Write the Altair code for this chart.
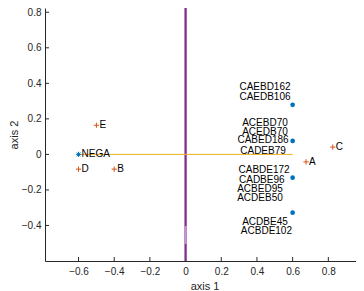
import altair as alt
import pandas as pd

# red "+" points
plus_names = ["A", "B", "C", "D", "E"]
plus_x = [0.675, -0.4, 0.825, -0.6, -0.5]
plus_y = [-0.042, -0.083, 0.041, -0.083, 0.164]

# blue asterisk
neg_name = ["NEGA"]
neg_x = [-0.6]
neg_y = [0.0]

# blue dots
dot_x = [0.6, 0.6, 0.6, 0.6]
dot_y = [0.279, 0.076, -0.131, -0.328]

# dot labels and their anchor positions
lab_text = ["CAEBD162", "CAEDB106", "ACEBD70", "ACEDB70", "CABED186", "CADEB79",
            "CABDE172", "CADBE96", "ACBED95", "ACDEB50", "ACDBE45", "ACBDE102"]
lab_x = [0.445, 0.445, 0.445, 0.445, 0.434, 0.434,
         0.440, 0.427, 0.417, 0.417, 0.445, 0.453]
lab_y = [0.380, 0.324, 0.179, 0.125, 0.082, 0.021,
         -0.086, -0.144, -0.196, -0.247, -0.379, -0.429]

# reference lines
hline_x = [-0.6, 0.6]
hline_y = [0.0, 0.0]
vline_y = [-0.6, 0.824]
vline_light_y = [-0.403, -0.504]

x_ticks = [-0.6, -0.4, -0.2, 0, 0.2, 0.4, 0.6, 0.8, 1]
y_ticks = [-0.4, -0.2, 0, 0.2, 0.4, 0.6, 0.8]
x_domain = [-0.788, 1.0]
y_domain = [-0.6, 0.824]

W, H = 319, 253
FONT = "Liberation Sans"
AX = "#262626"

xs = alt.Scale(domain=x_domain, nice=False, zero=False)
ys = alt.Scale(domain=y_domain, nice=False, zero=False)

X = lambda f: alt.X(f, type="quantitative", scale=xs, axis=alt.Axis(
    values=x_ticks, title="axis 1", grid=False, ticks=False, labelFlush=False,
    labelPadding=5, titlePadding=4, format="~g"))
Y = lambda f: alt.Y(f, type="quantitative", scale=ys, axis=alt.Axis(
    values=y_ticks, title="axis 2", grid=False, ticks=False, labelFlush=False,
    labelPadding=4, titlePadding=2, format="~g"))

plus_df = pd.DataFrame({"x": plus_x, "y": plus_y, "t": plus_names})
neg_df = pd.DataFrame({"x": neg_x, "y": neg_y, "t": neg_name})
dot_df = pd.DataFrame({"x": dot_x, "y": dot_y})
lab_df = pd.DataFrame({"x": lab_x, "y": lab_y, "t": lab_text})
hdf = pd.DataFrame({"x": hline_x, "y": hline_y})
vdf = pd.DataFrame({"x": [0.0, 0.0], "y": vline_y})
vldf = pd.DataFrame({"x": [0.0, 0.0], "y": vline_light_y})
xt_df = pd.DataFrame({"v": x_ticks})
yt_df = pd.DataFrame({"v": y_ticks})

vline = alt.Chart(vdf).mark_line(color="#7E2F8E", strokeWidth=2.3).encode(x=X("x"), y=Y("y"))
vlight = alt.Chart(vldf).mark_line(color="#C39ACB", strokeWidth=2.3).encode(x=X("x"), y=Y("y"))
hline = alt.Chart(hdf).mark_line(color="#EDB120", strokeWidth=1).encode(x=X("x"), y=Y("y"))

plus_path = "M-1,0L1,0M0,-1L0,1"
star_path = "M-1,0L1,0M0,-1L0,1M-0.7,-0.7L0.7,0.7M-0.7,0.7L0.7,-0.7"

plus_pts = alt.Chart(plus_df).mark_point(shape=plus_path, size=28, filled=False,
                                         color="#D95319", strokeWidth=1, opacity=1).encode(x=X("x"), y=Y("y"))
plus_txt = alt.Chart(plus_df).mark_text(align="left", baseline="middle", dx=3, font=FONT,
                                        fontSize=10, color="#000000").encode(x=X("x"), y=Y("y"), text="t:N")
neg_pt = alt.Chart(neg_df).mark_point(shape=star_path, size=28, filled=False,
                                      color="#0072BD", strokeWidth=1, opacity=1).encode(x=X("x"), y=Y("y"))
neg_txt = alt.Chart(neg_df).mark_text(align="left", baseline="middle", dx=3, font=FONT,
                                      fontSize=10, color="#000000").encode(x=X("x"), y=Y("y"), text="t:N")
dots = alt.Chart(dot_df).mark_circle(size=22, color="#0072BD", opacity=1).encode(x=X("x"), y=Y("y"))
labs = alt.Chart(lab_df).mark_text(align="center", baseline="middle", font=FONT,
                                   fontSize=10, color="#000000").encode(x=X("x"), y=Y("y"), text="t:N")

xt = alt.Chart(xt_df).mark_rule(color=AX, strokeWidth=1).encode(
    x=X("v"), y=alt.value(H), y2=alt.value(H - 4))
yt = alt.Chart(yt_df).mark_rule(color=AX, strokeWidth=1).encode(
    y=Y("v"), x=alt.value(0), x2=alt.value(4))

chart = alt.layer(xt, yt, vline, vlight, hline, plus_pts, plus_txt, neg_pt, neg_txt, dots, labs).properties(
    width=W, height=H,
    autosize=alt.AutoSizeParams(type="none"),
    padding={"left": 37, "top": 0, "right": -8, "bottom": 30},
).configure_view(stroke=None).configure_axis(
    domainColor=AX, labelColor=AX, titleColor=AX, labelFont=FONT, titleFont=FONT,
    labelFontSize=10, titleFontSize=11, titleFontWeight="normal", domainWidth=1,
)

chart.save("out.html", embed_options={"renderer": "svg", "actions": False})
